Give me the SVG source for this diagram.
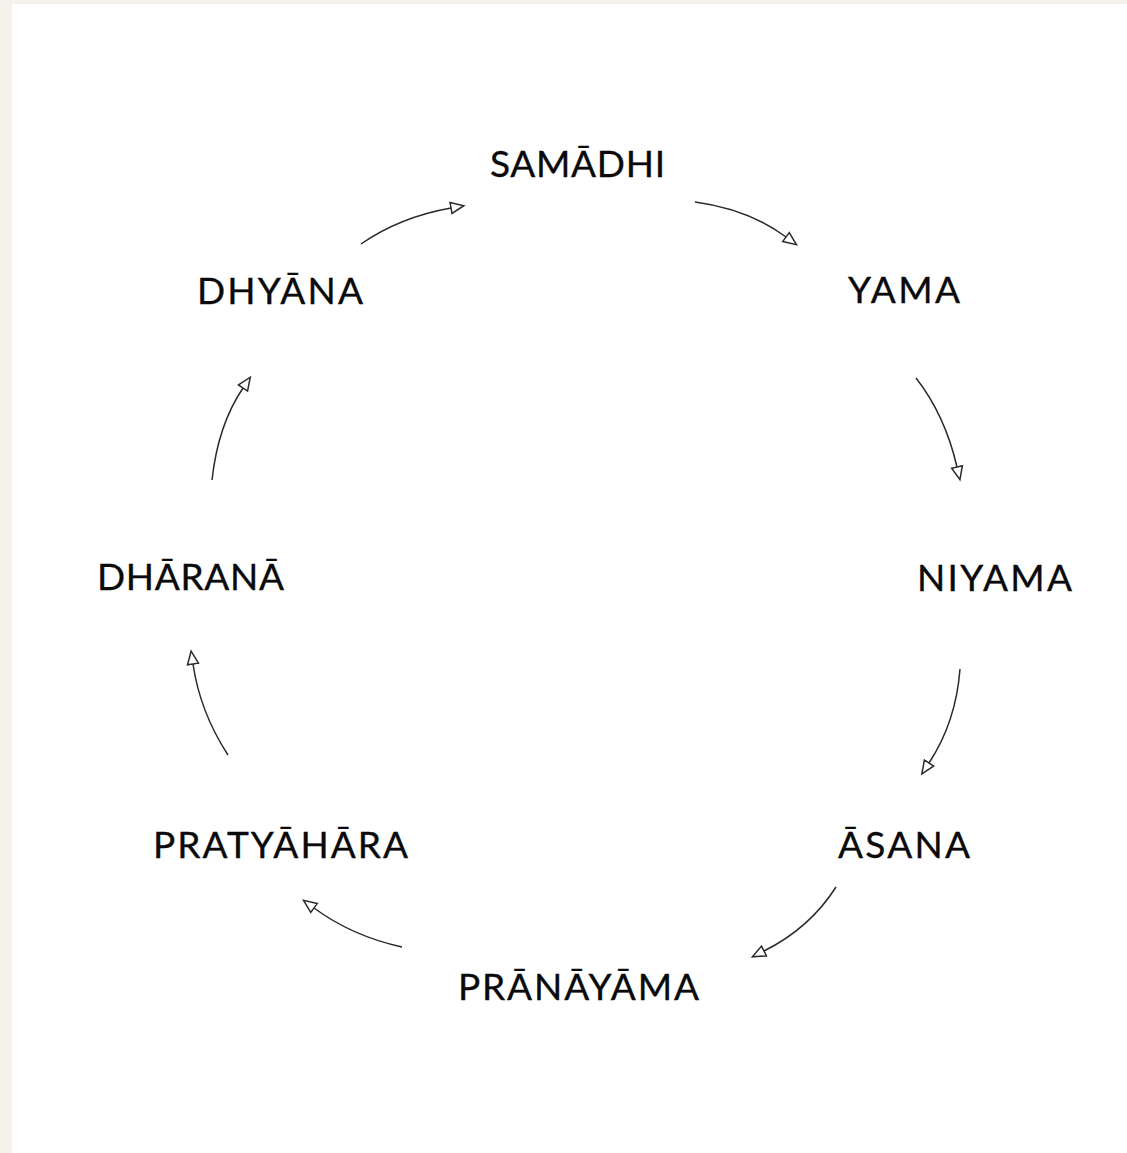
<svg xmlns="http://www.w3.org/2000/svg" width="1127" height="1153" viewBox="0 0 1127 1153">
<style>
.lbl{font-family:"Lato","Noto Sans","Liberation Sans",sans-serif;font-size:37px;fill:#0a0a0a;text-anchor:middle;font-weight:400;stroke:#0a0a0a;stroke-width:0.35}
.arc{fill:none;stroke:#2a2a2a;stroke-width:1.5;marker-end:url(#tri)}
</style>
<defs>
<marker id="tri" markerUnits="userSpaceOnUse" markerWidth="20" markerHeight="16" refX="1" refY="7" orient="auto" viewBox="0 0 20 14">
<path d="M1,1.5 L14,7 L1,12.5 Z" fill="#fff" stroke="#2a2a2a" stroke-width="1.5" stroke-linejoin="miter"/>
</marker>
</defs>
<rect x="0" y="0" width="1127" height="1153" fill="#f5f2ec"/>
<rect x="12" y="4" width="1115" height="1149" fill="#fff"/>
<g id="connectors">
<path class="arc" d="M361,244 Q400,217 451,208"/>
<path class="arc" d="M695,202 Q748,209 786,237"/>
<path class="arc" d="M916,378 Q945,415 957,467"/>
<path class="arc" d="M960,669 Q956,722 929,763"/>
<path class="arc" d="M836,887 Q810,928 764,951"/>
<path class="arc" d="M402,947 Q352,936 314,908"/>
<path class="arc" d="M228,755 Q200,712 193,664"/>
<path class="arc" d="M212,480 Q218,425 243,388"/>
</g>
<g id="samadhi"><text class="lbl" x="577.5" y="177" textLength="175" lengthAdjust="spacing">SAMĀDHI</text></g>
<g id="yama"><text class="lbl" x="904" y="303" textLength="112" lengthAdjust="spacing">YAMA</text></g>
<g id="niyama"><text class="lbl" x="994.5" y="591" textLength="155" lengthAdjust="spacing">NIYAMA</text></g>
<g id="asana"><text class="lbl" x="904" y="858" textLength="132" lengthAdjust="spacing">ĀSANA</text></g>
<g id="pranayama"><text class="lbl" x="578.5" y="1000" textLength="241" lengthAdjust="spacing">PRĀNĀYĀMA</text></g>
<g id="pratyahara"><text class="lbl" x="280.5" y="858" textLength="255" lengthAdjust="spacing">PRATYĀHĀRA</text></g>
<g id="dharana"><text class="lbl" x="190.5" y="590" textLength="187" lengthAdjust="spacing">DHĀRANĀ</text></g>
<g id="dhyana"><text class="lbl" x="280" y="304" textLength="166" lengthAdjust="spacing">DHYĀNA</text></g>
</svg>
